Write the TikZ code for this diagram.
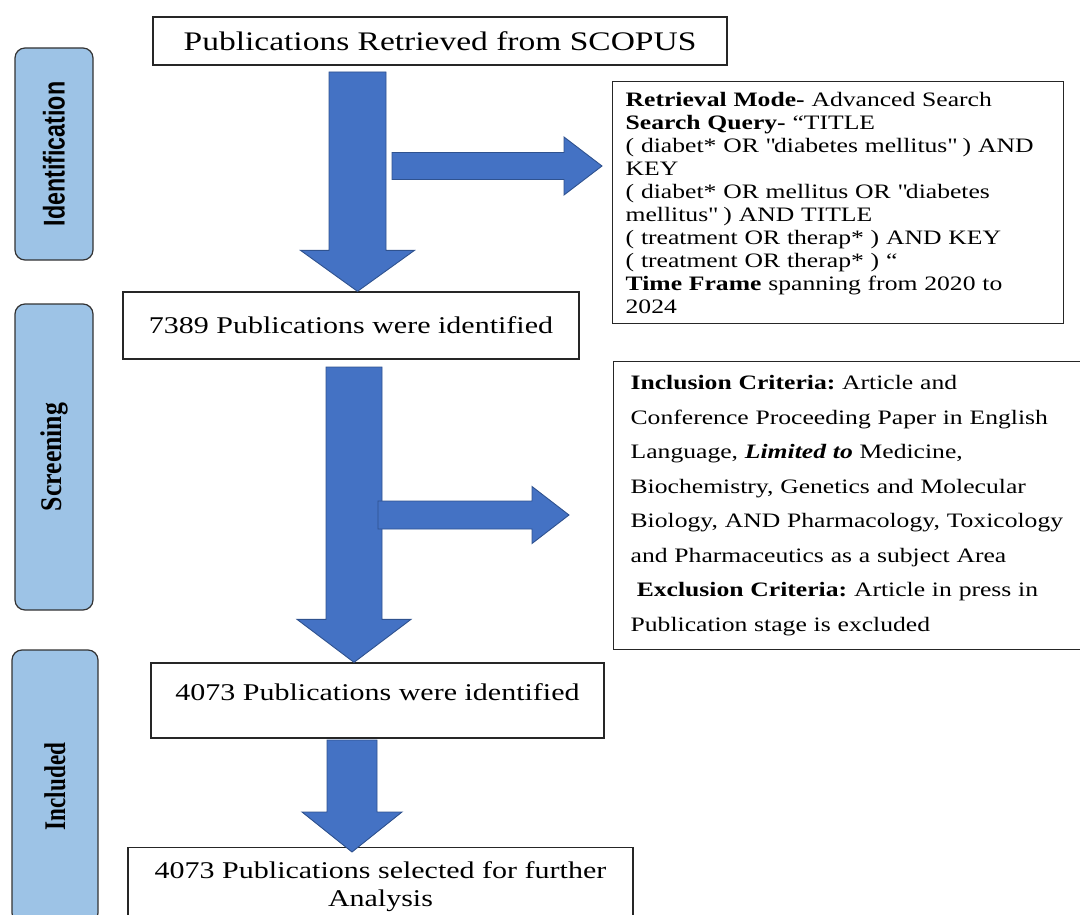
\documentclass[tikz,border=0pt]{standalone}
\usepackage{fontspec}
\setmainfont{Liberation Serif}[FakeStretch=1.25]
\newfontfamily\stagesans{Liberation Sans}
\newfontfamily\stageserif{Liberation Serif}
\usetikzlibrary{calc}
\definecolor{arrowblue}{HTML}{4472C4}
\definecolor{arrowedge}{HTML}{2F528F}
\definecolor{stagefill}{HTML}{9DC3E6}
\frenchspacing
\newcommand{\dq}{\textquotedbl}

% block arrows: from, to, half shaft, half head, head length
\newcommand{\blockdown}[5]{%
  \draw[blockarrow] let \p1=(#1), \p2=(#2) in
    (\x1-#3pt,\y1) -- (\x1+#3pt,\y1) -- (\x1+#3pt,\y2+#5pt) -- (\x1+#4pt,\y2+#5pt)
    -- (\x1,\y2) -- (\x1-#4pt,\y2+#5pt) -- (\x1-#3pt,\y2+#5pt) -- cycle;}
\newcommand{\blockright}[5]{%
  \draw[blockarrow] let \p1=(#1), \p2=(#2) in
    (\x1,\y1+#3pt) -- (\x2-#5pt,\y1+#3pt) -- (\x2-#5pt,\y1+#4pt) -- (\x2,\y1)
    -- (\x2-#5pt,\y1-#4pt) -- (\x2-#5pt,\y1-#3pt) -- (\x1,\y1-#3pt) -- cycle;}

\begin{document}
\begin{tikzpicture}[x=1pt, y=-1pt,
    box/.style={draw=black!85, line width=1.3pt, fill=white, inner sep=0pt},
    stage/.style={draw=black!80, fill=stagefill, line width=1.2pt,
      rounded corners=10pt, minimum width=78pt, inner sep=0pt},
    blockarrow/.style={fill=arrowblue, draw=arrowedge, line width=0.9pt, line join=miter},
    boxtext/.style={font={\fontsize{24pt}{28pt}\selectfont}},
    listtext/.style={font={\fontsize{20.5pt}{23pt}\selectfont}}]
  \useasboundingbox (0,0) rectangle (1080,915);
  \clip (0,0) rectangle (1080,915);

  % stages
  \node[stage, minimum height=212pt] (ident) at (54,154)
    {\rotatebox{90}{\stagesans\bfseries\fontsize{30pt}{30pt}\selectfont\scalebox{0.775}[1]{Identification}}};
  \node[stage, minimum height=306pt] (screen) at (54,457)
    {\rotatebox{90}{\stageserif\bfseries\fontsize{30pt}{30pt}\selectfont\scalebox{0.86}[1]{Screening}}};
  \node[stage, minimum width=86pt, minimum height=273pt] (incl) at (55,786.5)
    {\rotatebox{90}{\stageserif\bfseries\fontsize{30pt}{30pt}\selectfont\scalebox{0.77}[1]{Included}}};

  % flow boxes
  \node[box, minimum width=574pt, minimum height=48pt,
    font={\fontsize{26.8pt}{31pt}\selectfont}] (scopus) at (440,41)
    {Publications Retrieved from SCOPUS};
  \node[box, boxtext, minimum width=456pt, minimum height=67pt] (n7389) at (351,325.5)
    {7389 Publications were identified};
  \node[box, boxtext, minimum width=453pt, minimum height=75pt,
    text height=17pt, text depth=17pt] (n4073) at (377.5,700.5)
    {4073 Publications were identified};
  \node[box, boxtext, minimum width=505pt, minimum height=78pt, anchor=north,
    align=center] (final) at (380.5,847)
    {4073 Publications selected for further\\Analysis};

  % side boxes
  \node[box, listtext, anchor=north west, minimum height=242pt, text width=425pt,
    inner xsep=13pt, align=left] (query) at (612,81)
    {\textbf{Retrieval Mode-} Advanced Search\\
     \textbf{Search Query-} “TITLE\\
     ( diabet* OR \dq diabetes mellitus\dq{} ) AND\\
     KEY\\
     ( diabet* OR mellitus OR \dq diabetes\\
     mellitus\dq{} ) AND TITLE\\
     ( treatment OR therap* ) AND KEY\\
     ( treatment OR therap* ) “\\
     \textbf{Time Frame} spanning from 2020 to\\
     2024};
  \node[box, anchor=north west, minimum height=288pt, text width=470pt,
    inner xsep=17pt, align=left, font={\fontsize{20.5pt}{34.5pt}\selectfont}]
    (criteria) at (613,361)
    {\textbf{Inclusion Criteria:} Article and\\
     Conference Proceeding Paper in English\\
     Language, \textbf{\textit{Limited to}} Medicine,\\
     Biochemistry, Genetics and Molecular\\
     Biology, AND Pharmacology, Toxicology\\
     and Pharmaceutics as a subject Area\\
     \hspace{0.3em}\textbf{Exclusion Criteria:} Article in press in\\
     Publication stage is excluded};

  % arrow ends
  \coordinate (a1from) at (357.5,72);
  \coordinate (a2from) at (354,367);
  \coordinate (a3from) at (352,740);
  \coordinate (a3to)   at (352,852);
  \coordinate (s1from) at (392,166);
  \coordinate (s1to)   at (602,166);
  \coordinate (s2from) at (378,515);
  \coordinate (s2to)   at (569,515);

  \blockdown{a1from}{a1from |- n7389.north}{28.5}{57}{41}
  \blockright{s1from}{s1to}{13.5}{29}{38}
  \blockdown{a2from}{a2from |- n4073.north}{28}{57}{43}
  \blockright{s2from}{s2to}{14}{28.5}{37}
  \blockdown{a3from}{a3to}{25}{50}{40}
\end{tikzpicture}
\end{document}
